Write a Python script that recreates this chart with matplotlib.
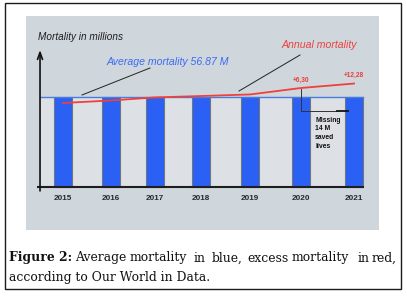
import matplotlib
matplotlib.use("Agg")
import matplotlib.pyplot as plt
from matplotlib.patches import Rectangle
from matplotlib.lines import Line2D

# ---------------- data ----------------
years = ["2015", "2016", "2017", "2018", "2019", "2020", "2021"]
average_mortality = 56.87
annual_mortality = [53.1, 54.7, 56.6, 57.5, 58.5, 62.6, 65.4]
excess_years = ["2020", "2021"]
excess_labels = ["+6,30", "+12,28"]
avg_label = "Average mortality 56.87 M"
annual_label = "Annual mortality"
ylabel = "Mortality in millions"
missing_note = "Missing\n14 M\nsaved\nlives"
caption_bold = "Figure 2:"
caption_line1 = "Average mortality in blue, excess mortality in red,"
caption_line2 = "according to Our World in Data."

# ---------------- layout ----------------
bar_pos = [0, 0.99, 1.89, 2.84, 3.86, 4.91, 6.0]
word_x = [75, 130, 193, 212, 247, 292, 357, 372]   # caption line-1 word starts (px)
W, H = 407, 296
bw = 0.37

def F(px, py):
    return (px / W, 1 - py / H)

fig = plt.figure(figsize=(W / 100, H / 100), dpi=100)
fig.patch.set_facecolor("white")

# outer border
fig.add_artist(Rectangle(F(5, 289), 396 / W, 286 / H, transform=fig.transFigure,
                         fill=False, ec="#1a1a1a", lw=1.0))

ax = fig.add_axes([26 / W, 1 - 230 / H, 353 / W, 214 / H])
ax.set_facecolor("#cfd6dc")
ax.set_xlim(-0.763, 6.515)
ax.set_ylim(-27.2, 108.1)
ax.set_xticks([])
ax.set_yticks([])
for s in ax.spines.values():
    s.set_visible(False)

axis_x = -0.474
right_end = bar_pos[-1] + bw / 2

# lighter region under the average
ax.add_patch(Rectangle((axis_x, 0), right_end - axis_x, average_mortality,
                       facecolor="#dde1e5", edgecolor="none", zorder=1))
ax.bar(bar_pos, [average_mortality] * len(years), width=bw, color="#2a60f4",
       edgecolor="#6f767d", linewidth=0.8, zorder=2)

# average line
ax.plot([axis_x, right_end], [average_mortality, average_mortality],
        color="#4a7be0", lw=1.0, zorder=3)
# annual mortality
ax.plot(bar_pos, annual_mortality, color="#f0403c", lw=1.3, zorder=4)

# axes lines
ax.plot([-0.536, 6.2], [0, 0], color="#1e1e1e", lw=1.5, zorder=5, solid_capstyle="butt")
ax.annotate("", xy=(axis_x, 86.6), xytext=(axis_x, -2.5),
            arrowprops=dict(arrowstyle="->,head_length=0.5,head_width=0.18",
                            lw=1.2, color="#111111", shrinkA=0, shrinkB=0), zorder=5)

# year labels
for p, y in zip(bar_pos, years):
    ax.text(p, -7.3, y, ha="center", va="center", fontsize=5.9, fontweight="bold",
            color="#2a2a2a", family="Liberation Sans")

# excess labels
for yr, lab in zip(excess_years, excess_labels):
    i = years.index(yr)
    ax.text(bar_pos[i], annual_mortality[i] + 2.3 + (0.6 if i == 6 else 0), lab,
            ha="center", va="bottom", fontsize=4.7, fontweight="bold",
            color="#e8403c", family="Liberation Sans")

# texts
fig.text(*F(38, 37), ylabel, fontsize=7.2, style="italic", color="#1e1e1e",
         family="Liberation Sans", ha="left", va="center")
fig.text(*F(107, 62), avg_label, fontsize=7.6, style="italic", color="#3a6cf2",
         family="Liberation Sans", ha="left", va="center")
fig.text(*F(282, 45), annual_label, fontsize=7.6, style="italic", color="#ef4040",
         family="Liberation Sans", ha="left", va="center")

# pointer lines
for (x0, y0, x1, y1) in [(82, 95, 150, 68), (239, 91, 300, 55)]:
    fig.add_artist(Line2D([x0 / W, x1 / W], [1 - y0 / H, 1 - y1 / H],
                          transform=fig.transFigure, color="#222222", lw=0.7))
# bracket
fig.add_artist(Line2D([301 / W, 301 / W, 337 / W], [1 - 89 / H, 1 - 111 / H, 1 - 111 / H],
                      transform=fig.transFigure, color="#333333", lw=0.7))
fig.add_artist(Line2D([337 / W, 348 / W], [1 - 111 / H, 1 - 111 / H],
                      transform=fig.transFigure, color="#111111", lw=1.3))
fig.text(*F(315, 117), missing_note, fontsize=4.9, fontweight="bold", color="#111111",
         family="Liberation Sans", ha="left", va="top", linespacing=1.3)

# caption
cap_font = "DejaVu Serif"
fig.canvas.draw()
r = fig.canvas.get_renderer()
probe = fig.text(0, 0, caption_line2, fontsize=10, family=cap_font)
cap_size = 10 * 202 / probe.get_window_extent(r).width
probe.remove()

fig.text(*F(9, 258), caption_bold, fontsize=cap_size, fontweight="bold",
         family=cap_font, color="#111111", ha="left", va="center")
for w, xw in zip(caption_line1.split(" "), word_x):
    fig.text(*F(xw, 258), w, fontsize=cap_size, family=cap_font, color="#111111",
             ha="left", va="center")
fig.text(*F(9, 277), caption_line2, fontsize=cap_size, family=cap_font,
         color="#111111", ha="left", va="center")

fig.savefig("out.png", dpi=100)
